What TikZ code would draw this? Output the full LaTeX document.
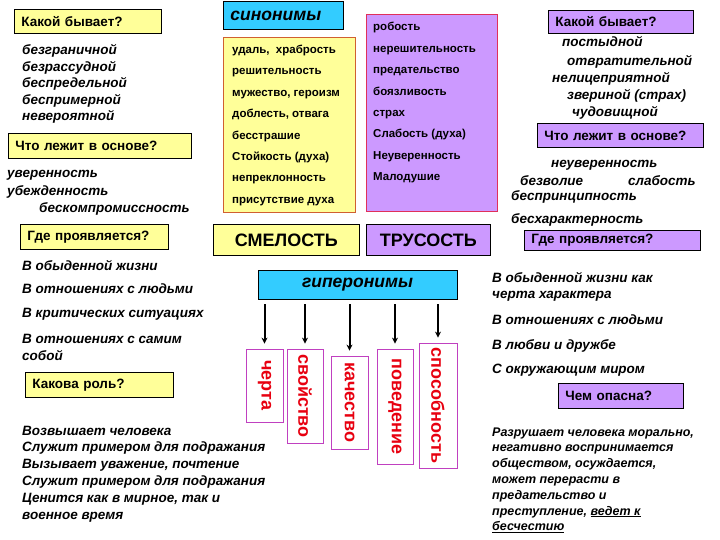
\documentclass[tikz,border=0pt]{standalone}
\usepackage{fontspec}
\setmainfont{Liberation Sans}
\usetikzlibrary{arrows.meta}

\definecolor{qyellow}{HTML}{FFFF99}
\definecolor{qviolet}{HTML}{CC99FF}
\definecolor{qblue}{HTML}{33CCFF}
\definecolor{synframe}{HTML}{D06030}
\definecolor{trusframe}{HTML}{E0305A}
\definecolor{hypframe}{HTML}{C040C0}
\definecolor{hyptext}{HTML}{E80010}

\begin{document}
\begin{tikzpicture}[x=1pt, y=-1pt,
    qbox/.style 2 args={draw=black, line width=0.8pt, anchor=north west,
      text width=#1, minimum height=#2, inner xsep=7pt, inner ysep=0pt,
      font=\fontsize{13.5}{15}\selectfont\bfseries},
    ilist/.style={anchor=base west, inner sep=0pt, align=left,
      font=\fontsize{13.5}{16.8}\selectfont\bfseries\itshape},
    synlist/.style={anchor=base west, inner sep=0pt, align=left,
      font=\fontsize{11.5}{21.4}\selectfont\bfseries},
    bigbox/.style={draw=black, line width=0.8pt, anchor=north west,
      inner sep=0pt, font=\fontsize{18}{20}\selectfont\bfseries},
    hypbox/.style={draw=hypframe, line width=0.8pt, fill=white, rotate=-90,
      inner sep=0pt, text=hyptext, font=\fontsize{18}{20}\selectfont\bfseries},
    hyparrow/.style={line width=2pt, -{Stealth[length=6pt, width=6pt]},
      shorten <=5pt, shorten >=5pt},
  ]
  \useasboundingbox (0,0) rectangle (720,540);

  % synonyms (multi-line nodes sit on their last baseline)
  \node[qbox={106pt}{28pt}, fill=qblue,
        font=\fontsize{17.5}{18}\selectfont\bfseries\itshape] (syn) at (223,1) {синонимы};
  \node[draw=synframe, line width=0.8pt, fill=qyellow, anchor=north west,
        minimum width=132, minimum height=175] (smel-syn) at (223,37) {};
  \node[synlist] (smel-list) at (232,203.3) {удаль,\ \ храбрость\\решительность\\мужество, героизм\\доблесть, отвага\\бесстрашие\\Стойкость (духа)\\непреклонность\\присутствие духа};
  \node[draw=trusframe, line width=0.8pt, fill=qviolet, anchor=north west,
        minimum width=131, minimum height=197] (trus-syn) at (366,14) {};
  \node[synlist] (trus-list) at (373,180.8) {робость\\нерешительность\\предательство\\боязливость\\страх\\Слабость (духа)\\Неуверенность\\Малодушие};

  \node[bigbox, fill=qyellow, minimum width=146, minimum height=31] (smel) at (213,224) {СМЕЛОСТЬ};
  \node[bigbox, fill=qviolet, minimum width=124, minimum height=31] (trus) at (366,224) {ТРУСОСТЬ};

  % left column
  \node[qbox={133pt}{24pt}, fill=qyellow] (kak-l) at (14,9) {Какой бывает?};
  \node[ilist, font=\fontsize{13.5}{16.5}\selectfont\bfseries\itshape] (kak-l-list) at (22,121) {безграничной\\безрассудной\\беспредельной\\беспримерной\\невероятной};
  \node[qbox={169pt}{25pt}, fill=qyellow] (osn-l) at (8,133) {Что лежит в основе?};
  \node[ilist] (osn-l-a) at (7,178) {уверенность};
  \node[ilist] (osn-l-b) at (7,196) {убежденность};
  \node[ilist] (osn-l-c) at (39,213) {бескомпромиссность};
  \node[qbox={134pt}{25pt}, fill=qyellow] (gde-l) at (20,224) {Где проявляется?};
  \node[ilist] (gde-l-a) at (22,270) {В обыденной жизни};
  \node[ilist] (gde-l-b) at (22,293) {В отношениях с людьми};
  \node[ilist] (gde-l-c) at (22,317) {В критических ситуациях};
  \node[ilist] (gde-l-d) at (22,360) {В отношениях с самим\\собой};
  \node[qbox={134pt}{25pt}, fill=qyellow] (rol) at (25,372) {Какова роль?};
  \node[ilist] (rol-list) at (22,519) {Возвышает человека\\Служит примером для подражания\\Вызывает уважение, почтение\\Служит примером для подражания\\Ценится как в мирное, так и\\военное время};

  % right column
  \node[qbox={131pt}{23pt}, fill=qviolet] (kak-r) at (548,10) {Какой бывает?};
  \node[ilist] (kak-r-a) at (562,47) {постыдной};
  \node[ilist] (kak-r-b) at (567,66) {отвратительной};
  \node[ilist] (kak-r-c) at (552,83) {нелицеприятной};
  \node[ilist] (kak-r-d) at (567,100) {звериной (страх)};
  \node[ilist] (kak-r-e) at (572,117) {чудовищной};
  \node[qbox={152pt}{24pt}, fill=qviolet] (osn-r) at (537,123) {Что лежит в основе?};
  \node[ilist] (osn-r-a) at (551,168) {неуверенность};
  \node[ilist] (osn-r-b) at (520,186) {безволие};
  \node[ilist] (osn-r-c) at (628,186) {слабость};
  \node[ilist] (osn-r-d) at (511,201) {беспринципность};
  \node[ilist] (osn-r-e) at (511,224) {бесхарактерность};
  \node[qbox={162pt}{20pt}, fill=qviolet] (gde-r) at (524,230) {Где проявляется?};
  \node[ilist, font=\fontsize{13.5}{16}\selectfont\bfseries\itshape] (gde-r-a) at (492,298) {В обыденной жизни как\\черта характера};
  \node[ilist] (gde-r-b) at (492,324) {В отношениях с людьми};
  \node[ilist] (gde-r-c) at (492,349) {В любви и дружбе};
  \node[ilist] (gde-r-d) at (492,373) {С окружающим миром};
  \node[qbox={111pt}{25pt}, fill=qviolet] (opas) at (558,383) {Чем опасна?};
  \node[ilist, font=\fontsize{12.5}{15.8}\selectfont\bfseries\itshape] (opas-list) at (492,530.8) {Разрушает человека морально,\\негативно воспринимается\\обществом, осуждается,\\может перерасти в\\предательство и\\преступление, \underline{ведет к}\\\underline{бесчестию}};

  % hyperonyms
  \node[bigbox, fill=qblue, anchor=center, minimum width=199, minimum height=29,
        font=\fontsize{17.5}{18}\selectfont\bfseries\itshape] (hyp) at (357.5,284.5) {гиперонимы};
  \node[hypbox, minimum width=73, minimum height=37] (cherta) at (264.5,385.5) {черта};
  \node[hypbox, minimum width=94, minimum height=36] (svojstvo) at (305,396) {свойство};
  \node[hypbox, minimum width=93, minimum height=37] (kachestvo) at (349.5,402.5) {качество};
  \node[hypbox, minimum width=115, minimum height=36] (povedenie) at (395,406.5) {поведение};
  \node[hypbox, minimum width=125, minimum height=38] (sposobnost) at (438,405.5) {способность};
  \draw[hyparrow] (hyp.south -| cherta.west) -- (cherta.west);
  \draw[hyparrow] (hyp.south -| svojstvo.west) -- (svojstvo.west);
  \draw[hyparrow] (hyp.south -| kachestvo.west) -- (kachestvo.west);
  \draw[hyparrow] (hyp.south -| povedenie.west) -- (povedenie.west);
  \draw[hyparrow] (hyp.south -| sposobnost.west) -- (sposobnost.west);
\end{tikzpicture}
\end{document}
